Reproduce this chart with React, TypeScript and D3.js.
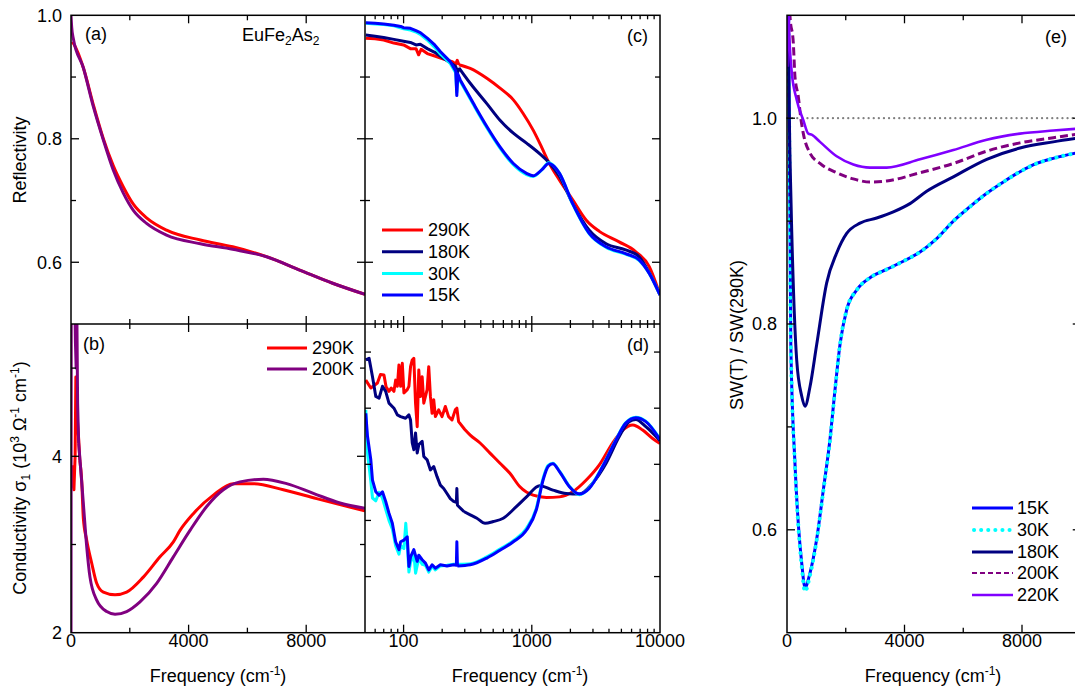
import React from 'react';
import * as d3 from 'd3';

type P = [number, number];

// ---------------- data ----------------
// (a) reflectivity, linear frequency
const reflA290: P[] = [[45, 0.957], [100, 0.953], [420, 0.915], [760, 0.855], [1100, 0.80], [1440, 0.756], [1780, 0.722], [2120, 0.694], [2570, 0.672], [3250, 0.652], [4400, 0.636], [5500, 0.625], [6650, 0.609], [7800, 0.587], [8900, 0.566], [10000, 0.548]];
const reflA200: P[] = [[0, 1.0], [25, 0.98], [80, 0.962], [420, 0.915], [760, 0.852], [1100, 0.798], [1440, 0.749], [1780, 0.712], [2120, 0.684], [2570, 0.663], [3250, 0.644], [4400, 0.630], [5500, 0.621], [6650, 0.609], [7800, 0.587], [8900, 0.566], [10000, 0.548]];

// (b) conductivity, linear frequency
const sigB290: P[] = [[30, 3.9], [60, 3.7], [100, 3.62], [140, 4.0], [165, 4.9], [185, 4.3], [220, 4.4], [260, 4.2], [300, 3.95], [363, 3.73], [419, 3.3], [533, 3.05], [703, 2.79], [874, 2.56], [1100, 2.46], [1497, 2.43], [1893, 2.46], [2460, 2.63], [3027, 2.86], [3481, 3.03], [3707, 3.16], [4161, 3.35], [4841, 3.56], [5522, 3.69], [6202, 3.69], [7222, 3.62], [8356, 3.52], [10000, 3.38]];
const sigB200: P[] = [[0, 1.5], [8, 6.0], [120, 6.0], [150, 5.3], [175, 5.0], [200, 5.6], [225, 4.6], [260, 4.15], [306, 3.96], [419, 3.47], [533, 2.98], [646, 2.63], [874, 2.37], [1214, 2.24], [1497, 2.21], [1893, 2.24], [2347, 2.35], [2914, 2.56], [3481, 2.86], [4048, 3.16], [4615, 3.43], [5181, 3.62], [5748, 3.71], [6542, 3.74], [7335, 3.69], [8243, 3.58], [9150, 3.47], [10000, 3.41]];

// (c) reflectivity, log frequency
const reflC290: P[] = [[50.7, 0.963], [60, 0.962], [70, 0.96], [84, 0.955], [100, 0.952], [113, 0.946], [125, 0.946], [131, 0.936], [137, 0.945], [153, 0.938], [175, 0.934], [205, 0.929], [240, 0.925], [255, 0.921], [262, 0.927], [270, 0.92], [331, 0.914], [446, 0.898], [565, 0.882], [718, 0.863], [856, 0.841], [1025, 0.814], [1190, 0.787], [1355, 0.762], [1645, 0.733], [2085, 0.701], [2660, 0.668], [3364, 0.65], [4800, 0.633], [6480, 0.617], [8250, 0.593], [10000, 0.547]];
const reflC180: P[] = [[50.7, 0.968], [60, 0.966], [70, 0.964], [84, 0.961], [100, 0.958], [113, 0.956], [125, 0.952], [135, 0.953], [153, 0.946], [175, 0.94], [205, 0.93], [240, 0.921], [255, 0.917], [262, 0.905], [270, 0.915], [331, 0.89], [446, 0.857], [565, 0.83], [718, 0.809], [910, 0.793], [1150, 0.776], [1355, 0.762], [1645, 0.739], [2085, 0.695], [2806, 0.652], [3800, 0.63], [5390, 0.62], [6870, 0.609], [8250, 0.583], [10000, 0.547]];
const reflC30: P[] = [[50.7, 0.987], [60, 0.986], [70, 0.985], [84, 0.983], [100, 0.978], [113, 0.976], [125, 0.973], [135, 0.969], [153, 0.96], [175, 0.948], [194, 0.937], [231, 0.922], [255, 0.907], [260, 0.875], [265, 0.902], [277, 0.893], [351, 0.855], [446, 0.818], [565, 0.785], [718, 0.758], [910, 0.742], [1025, 0.739], [1200, 0.75], [1355, 0.761], [1500, 0.755], [1645, 0.744], [2085, 0.694], [2806, 0.646], [3800, 0.624], [5390, 0.613], [6870, 0.603], [8250, 0.582], [10000, 0.547]];
const reflC15: P[] = [[50.7, 0.988], [60, 0.987], [70, 0.986], [84, 0.984], [95, 0.982], [100, 0.98], [113, 0.979], [125, 0.975], [135, 0.972], [153, 0.963], [175, 0.952], [194, 0.941], [231, 0.925], [255, 0.91], [260, 0.87], [265, 0.905], [277, 0.895], [351, 0.857], [446, 0.82], [565, 0.787], [718, 0.76], [910, 0.744], [1025, 0.740], [1200, 0.75], [1355, 0.76], [1500, 0.755], [1645, 0.744], [2085, 0.695], [2806, 0.647], [3800, 0.625], [5390, 0.614], [6870, 0.604], [8250, 0.582], [10000, 0.547]];

// (d) conductivity, log frequency
const sigD290: P[] = [[50.7, 4.50], [55.5, 4.36], [62.5, 4.45], [66, 4.6], [70.3, 4.59], [73, 4.38], [76.9, 4.30], [80, 4.36], [84.1, 4.30], [86.7, 4.50], [89.4, 4.39], [92, 4.77], [94.8, 4.39], [97.7, 4.80], [100.6, 4.27], [106.8, 4.33], [110, 4.39], [113.3, 4.74], [116.8, 4.86], [120.2, 4.89], [123.9, 4.09], [127.7, 3.67], [131.4, 4.68], [135.5, 4.21], [139.6, 4.56], [143.7, 4.09], [152.6, 4.33], [157.1, 4.74], [161.9, 4.21], [166.8, 3.91], [171.8, 4.15], [177, 3.85], [187.8, 3.97], [199.4, 3.85], [211.6, 4.03], [224.4, 3.85], [238.5, 3.79], [253, 3.97], [260.3, 4.0], [268.6, 3.76], [300, 3.62], [331, 3.52], [395, 3.38], [472, 3.20], [565, 3.02], [675, 2.84], [808, 2.60], [1025, 2.45], [1300, 2.41], [1645, 2.42], [2085, 2.51], [2660, 2.72], [3364, 2.99], [4270, 3.38], [5120, 3.61], [6130, 3.70], [7320, 3.61], [8760, 3.46], [10000, 3.37]];
const sigD180: P[] = [[50.7, 4.86], [53.8, 4.89], [57.2, 4.56], [60.7, 4.21], [64.4, 4.18], [68.4, 4.39], [72.5, 4.30], [76.9, 4.09], [84.1, 4.0], [89.4, 3.88], [94.8, 3.85], [103.6, 3.82], [110, 3.88], [113.3, 3.79], [116.8, 3.38], [120.2, 3.26], [123.9, 3.56], [127.7, 3.20], [131.4, 3.35], [139.6, 3.41], [143.7, 3.14], [152.6, 3.08], [161.9, 2.90], [171.8, 2.96], [182.4, 2.78], [193.5, 2.63], [205.4, 2.57], [218, 2.48], [231.3, 2.39], [245.6, 2.34], [258, 2.32], [260.3, 2.57], [263, 2.27], [295, 2.16], [331, 2.1], [373, 2.04], [432, 1.95], [501, 1.98], [599, 2.04], [761, 2.25], [910, 2.42], [1150, 2.62], [1460, 2.54], [1855, 2.48], [2350, 2.47], [2970, 2.66], [3800, 3.02], [4800, 3.49], [5740, 3.76], [6480, 3.80], [7750, 3.67], [10000, 3.42]];
const sigD30: P[] = [[50.7, 3.97], [52.3, 3.2], [55.5, 2.7], [57.2, 2.4], [60.7, 2.35], [64.4, 2.5], [68.4, 2.4], [72.5, 2.2], [76.9, 2.0], [81.7, 1.85], [86.7, 1.55], [92, 1.4], [94.8, 1.55], [100.6, 1.5], [104, 1.95], [106.8, 1.6], [110, 1.08], [113.3, 1.25], [120.2, 1.4], [124, 1.06], [127.7, 1.2], [131.4, 1.32], [139.6, 1.22], [148.1, 1.2], [157.1, 1.08], [166.8, 1.18], [177, 1.12], [193.5, 1.19], [218, 1.2], [245.6, 1.22], [268, 1.22], [331, 1.23], [446, 1.35], [565, 1.49], [718, 1.64], [910, 1.86], [1085, 2.22], [1225, 2.75], [1340, 2.98], [1460, 3.02], [1645, 2.88], [1965, 2.61], [2350, 2.46], [2806, 2.58], [3570, 2.97], [4530, 3.44], [5390, 3.74], [6480, 3.84], [7750, 3.77], [10000, 3.45]];
const sigD15: P[] = [[50.7, 3.91], [52.3, 3.50], [55.5, 3.08], [57.2, 2.72], [60.7, 2.51], [64.4, 2.45], [68.4, 2.51], [72.5, 2.34], [76.9, 2.13], [81.7, 1.95], [86.7, 1.62], [92, 1.48], [94.8, 1.62], [100.6, 1.65], [106.8, 1.71], [110, 1.18], [113.3, 1.35], [120.2, 1.48], [127.7, 1.27], [131.4, 1.38], [139.6, 1.30], [148.1, 1.24], [157.1, 1.12], [166.8, 1.21], [177, 1.15], [193.5, 1.21], [218, 1.19], [245.6, 1.21], [258, 1.2], [260.3, 1.62], [263, 1.19], [331, 1.21], [446, 1.33], [565, 1.47], [718, 1.62], [910, 1.83], [1085, 2.19], [1225, 2.72], [1340, 2.96], [1460, 3.01], [1645, 2.87], [1965, 2.60], [2350, 2.47], [2806, 2.57], [3570, 2.96], [4530, 3.43], [5390, 3.73], [6480, 3.83], [7750, 3.76], [10000, 3.44]];

// (e) spectral weight ratio, linear frequency
const sw15: P[] = [[30, 1.15], [100, 0.9], [130, 0.78], [270, 0.665], [400, 0.6], [500, 0.568], [613, 0.544], [783, 0.558], [1011, 0.591], [1238, 0.639], [1464, 0.688], [1634, 0.736], [1804, 0.78], [2032, 0.814], [2373, 0.833], [2826, 0.845], [3393, 0.853], [3960, 0.861], [4528, 0.870], [5096, 0.883], [5663, 0.900], [6230, 0.914], [6800, 0.927], [7366, 0.938], [7932, 0.948], [8500, 0.956], [9066, 0.961], [10000, 0.967]];
const sw30: P[] = [[30, 1.15], [100, 0.9], [130, 0.78], [270, 0.663], [400, 0.598], [500, 0.565], [613, 0.540], [783, 0.556], [1011, 0.590], [1238, 0.638], [1464, 0.687], [1634, 0.735], [1804, 0.78], [2032, 0.814], [2373, 0.833], [2826, 0.845], [3393, 0.853], [3960, 0.861], [4528, 0.870], [5096, 0.883], [5663, 0.900], [6230, 0.914], [6800, 0.927], [7366, 0.938], [7932, 0.948], [8500, 0.956], [9066, 0.961], [10000, 0.967]];
const sw180: P[] = [[30, 1.15], [80, 1.0], [136, 0.92], [250, 0.81], [330, 0.765], [500, 0.73], [613, 0.72], [783, 0.739], [1011, 0.78], [1351, 0.84], [1691, 0.869], [2032, 0.888], [2485, 0.898], [3053, 0.903], [3620, 0.909], [4187, 0.917], [4755, 0.929], [5663, 0.943], [6800, 0.96], [7932, 0.971], [9066, 0.977], [10000, 0.981]];
const sw200: P[] = [[30, 1.15], [102, 1.099], [215, 1.073], [272, 1.04], [385, 1.021], [470, 1.0], [556, 0.985], [783, 0.966], [1123, 0.956], [1691, 0.947], [2258, 0.941], [2826, 0.938], [3393, 0.939], [4528, 0.947], [5663, 0.956], [6800, 0.968], [7932, 0.976], [9066, 0.981], [10000, 0.985]];
const sw220: P[] = [[10, 1.05], [40, 1.12], [80, 1.08], [160, 1.045], [330, 1.018], [556, 0.998], [726, 0.985], [840, 0.984], [1123, 0.977], [1691, 0.963], [2258, 0.955], [2826, 0.952], [3393, 0.952], [4528, 0.96], [5663, 0.969], [6800, 0.979], [7932, 0.985], [9066, 0.988], [10000, 0.99]];

// ticks
const linTicks = [2000, 4000, 6000, 8000];
const linMajor = [4000, 8000];
const linLabels = [0, 4000, 8000];
const reflTicks = [0.6, 0.7, 0.8, 0.9];
const reflLabels = [0.6, 0.8, 1.0];
const sigTicks = [3, 4, 5];
const sigLabels = [2, 4];
const sigDTicks = [1, 2, 3, 4, 5];
const logMajor = [100, 1000];
const logLabels = [100, 1000, 10000];
const swTicks = [0.6, 0.7, 0.8, 0.9, 1.0];
const swLabels = [0.6, 0.8, 1.0];

const legendB = [{ label: '290K', color: '#FF0000' }, { label: '200K', color: '#800080' }];
const legendC = [{ label: '290K', color: '#FF0000' }, { label: '180K', color: '#000080' }, { label: '30K', color: '#00FFFF' }, { label: '15K', color: '#0000FF' }];

// ---------------- layout ----------------
const X0 = 71, XM = 365, X1 = 660, YT = 15.3, YM = 324, YB = 632.7;
const E0 = 787, E1 = 1080.75;
const FONT = "'Liberation Sans', Arial, Helvetica, sans-serif";
const FS = 18;
const NOISY = 300; // below this frequency the measured spectra are drawn point-to-point

const xL = d3.scaleLinear().domain([0, 10000]).range([X0, XM]);
const yA = d3.scaleLinear().domain([0.5, 1.0]).range([YM, YT]);
const yB = d3.scaleLinear().domain([2, 5.5]).range([YB, YM]);
const xG = d3.scaleLog().domain([50, 10000]).range([XM, X1]);
const yD = d3.scaleLinear().domain([0, 5.5]).range([YB, YM]);
const xE = d3.scaleLinear().domain([0, 10000]).range([E0, E1]);
const yE = d3.scaleLinear().domain([0.5, 1.1]).range([YB, YT]);

const logMinor: number[] = [];
[10, 100, 1000].forEach((dec) => {
  for (let m = 2; m <= 9; m++) {
    const v = m * dec;
    if (v > 50 && v < 10000 && !logMajor.includes(v)) logMinor.push(v);
  }
});

function mkPath(data: P[], x: (v: number) => number, y: (v: number) => number, noisy: boolean) {
  const gen = (curve: any, pts: P[]) =>
    d3.line<P>().x((d) => x(d[0])).y((d) => y(d[1])).curve(curve)(pts) || '';
  if (!noisy) return gen(d3.curveMonotoneX, data);
  const low = data.filter((d) => d[0] <= NOISY);
  const high = data.slice(Math.max(0, low.length - 1));
  return gen(d3.curveLinear, low) + gen(d3.curveMonotoneX, high);
}

const Curve = ({ data, x, y, color, w = 3, dash, clip, noisy = false }: any) => (
  <path d={mkPath(data, x, y, noisy)} fill="none" stroke={color} strokeWidth={w}
    strokeDasharray={dash} strokeLinecap={dash && dash.startsWith('0.1') ? 'round' : 'butt'}
    strokeLinejoin="round" clipPath={`url(#${clip})`} />
);

function hTicks(vals: number[], x: (v: number) => number, y0: number, len: (v: number) => number, dir: number, key: string) {
  return vals.map((v) => <line key={key + v} x1={x(v)} x2={x(v)} y1={y0} y2={y0 + dir * len(v)} stroke="#000" strokeWidth={1.3} />);
}
function vTicks(vals: number[], y: (v: number) => number, x0: number, len: (v: number) => number, dir: number, key: string) {
  return vals.map((v) => <line key={key + v} x1={x0} x2={x0 + dir * len(v)} y1={y(v)} y2={y(v)} stroke="#000" strokeWidth={1.3} />);
}

const FreqTitle = ({ x }: { x: number }) => (
  <text x={x} y={682} textAnchor="middle">Frequency (cm<tspan dy={-7} fontSize={12}>-1</tspan><tspan dy={7}>)</tspan></text>
);

export default function App() {
  const linLen = (v: number) => (linMajor.includes(v) ? 8 : 5);
  const reflLen = (v: number) => (v === 0.6 || v === 0.8 ? 8 : 5);
  const sigLen = (v: number) => (v === 4 ? 8 : 5);
  const logLen = (v: number) => (logMajor.includes(v) ? 8 : 4);
  const swLen = (v: number) => (v === 0.6 || v === 0.8 || v === 1.0 ? 8 : 5);
  const allLog = [...logMajor, ...logMinor];

  return (
    <svg width={1075} height={693} style={{ position: 'absolute', left: 0, top: 0, background: '#fff' }}
      fontFamily={FONT} fontSize={FS} fill="#000">
      <defs>
        <clipPath id="cA"><rect x={X0} y={YT} width={XM - X0} height={YM - YT} /></clipPath>
        <clipPath id="cB"><rect x={X0} y={YM} width={XM - X0} height={YB - YM} /></clipPath>
        <clipPath id="cC"><rect x={XM} y={YT} width={X1 - XM} height={YM - YT} /></clipPath>
        <clipPath id="cD"><rect x={XM} y={YM} width={X1 - XM} height={YB - YM} /></clipPath>
        <clipPath id="cE"><rect x={E0} y={YT} width={E1 - E0} height={YB - YT} /></clipPath>
      </defs>
      <rect x={0} y={0} width={1075} height={693} fill="#fff" />

      {/* (a) */}
      <Curve data={reflA290} x={xL} y={yA} color="#FF0000" clip="cA" />
      <Curve data={reflA200} x={xL} y={yA} color="#800080" clip="cA" />
      {/* (b) */}
      <Curve data={sigB290} x={xL} y={yB} color="#FF0000" clip="cB" noisy />
      <Curve data={sigB200} x={xL} y={yB} color="#800080" clip="cB" noisy />
      {/* (c) */}
      <Curve data={reflC290} x={xG} y={yA} color="#FF0000" clip="cC" noisy />
      <Curve data={reflC180} x={xG} y={yA} color="#000080" clip="cC" noisy />
      <Curve data={reflC30} x={xG} y={yA} color="#00FFFF" clip="cC" noisy />
      <Curve data={reflC15} x={xG} y={yA} color="#0000FF" clip="cC" noisy />
      {/* (d) */}
      <Curve data={sigD290} x={xG} y={yD} color="#FF0000" clip="cD" noisy />
      <Curve data={sigD180} x={xG} y={yD} color="#000080" clip="cD" noisy />
      <Curve data={sigD30} x={xG} y={yD} color="#00FFFF" clip="cD" noisy />
      <Curve data={sigD15} x={xG} y={yD} color="#0000FF" clip="cD" noisy />
      {/* (e) */}
      <line x1={E0} x2={E1} y1={yE(1.0)} y2={yE(1.0)} stroke="#808080" strokeWidth={2.2} strokeDasharray="0.1 5" strokeLinecap="round" />
      <Curve data={sw15} x={xE} y={yE} color="#0000FF" clip="cE" />
      <Curve data={sw30} x={xE} y={yE} color="#00FFFF" w={4} dash="0.1 7" clip="cE" />
      <Curve data={sw180} x={xE} y={yE} color="#000080" clip="cE" />
      <Curve data={sw200} x={xE} y={yE} color="#800080" dash="8 4" clip="cE" />
      <Curve data={sw220} x={xE} y={yE} color="#8000FF" w={2.6} clip="cE" />

      {/* frames */}
      <g stroke="#000" strokeWidth={1.5} fill="none">
        <rect x={X0} y={YT} width={X1 - X0} height={YB - YT} />
        <line x1={XM} x2={XM} y1={YT} y2={YB} />
        <line x1={X0} x2={X1} y1={YM} y2={YM} />
        <rect x={E0} y={YT} width={E1 - E0} height={YB - YT} />
      </g>

      {/* ticks left panels */}
      {vTicks(reflTicks, yA, X0, reflLen, 1, 'al')}
      {vTicks(reflTicks, yA, XM, reflLen, -1, 'ar')}
      {vTicks(reflTicks, yA, XM, reflLen, 1, 'cl')}
      {vTicks(reflTicks, yA, X1, reflLen, -1, 'cr')}
      {hTicks(linTicks, xL, YT, linLen, 1, 'at')}
      {hTicks(linTicks, xL, YM, linLen, 1, 'bt')}
      {hTicks(linTicks, xL, YM, linLen, -1, 'ab')}
      {hTicks(linTicks, xL, YB, linLen, -1, 'bb')}
      {vTicks(sigTicks, yB, X0, sigLen, 1, 'bl')}
      {vTicks(sigTicks, yB, XM, sigLen, -1, 'br')}
      {vTicks(sigDTicks, yD, XM, () => 6, 1, 'dl')}
      {vTicks(sigDTicks, yD, X1, () => 6, -1, 'dr')}
      {hTicks(allLog, xG, YT, logLen, 1, 'ct')}
      {hTicks(allLog, xG, YM, logLen, -1, 'cb')}
      {hTicks(allLog, xG, YM, logLen, 1, 'dt')}
      {hTicks(allLog, xG, YB, logLen, -1, 'db')}
      {/* ticks (e) */}
      {vTicks(swTicks, yE, E0, swLen, 1, 'el')}
      {vTicks(swTicks, yE, E1, swLen, -1, 'er')}
      {hTicks(linTicks, xE, YT, linLen, 1, 'et')}
      {hTicks(linTicks, xE, YB, linLen, -1, 'eb')}

      {/* tick labels */}
      {reflLabels.map((v) => <text key={'ra' + v} x={62} y={yA(v)} dy="0.35em" textAnchor="end">{v.toFixed(1)}</text>)}
      {sigLabels.map((v) => <text key={'sb' + v} x={62} y={yB(v)} dy="0.35em" textAnchor="end">{v}</text>)}
      {linLabels.map((v) => <text key={'xb' + v} x={xL(v)} y={647} textAnchor="middle">{v}</text>)}
      {logLabels.map((v) => <text key={'xd' + v} x={xG(v)} y={647} textAnchor="middle">{v}</text>)}
      {swLabels.map((v) => <text key={'se' + v} x={777} y={yE(v)} dy="0.35em" textAnchor="end">{v.toFixed(1)}</text>)}
      {linLabels.map((v) => <text key={'xe' + v} x={xE(v)} y={647} textAnchor="middle">{v}</text>)}

      {/* axis titles */}
      <text transform="translate(26,160) rotate(-90)" textAnchor="middle">Reflectivity</text>
      <text transform="translate(26,478) rotate(-90)" textAnchor="middle">
        Conductivity σ<tspan dy={4} fontSize={12}>1</tspan><tspan dy={-4}> (10</tspan><tspan dy={-7} fontSize={12}>3</tspan><tspan dy={7}> Ω</tspan><tspan dy={-7} fontSize={12}>-1</tspan><tspan dy={7}> cm</tspan><tspan dy={-7} fontSize={12}>-1</tspan><tspan dy={7}>)</tspan>
      </text>
      <text transform="translate(743,335) rotate(-90)" textAnchor="middle">SW(T) / SW(290K)</text>
      <FreqTitle x={218} />
      <FreqTitle x={520} />
      <FreqTitle x={933} />

      {/* panel labels */}
      <text x={85} y={40}>(a)</text>
      <text x={83} y={350}>(b)</text>
      <text x={627} y={42}>(c)</text>
      <text x={627} y={351}>(d)</text>
      <text x={1045} y={43}>(e)</text>
      <text x={242} y={41}>EuFe<tspan dy={4} fontSize={12}>2</tspan><tspan dy={-4}>As</tspan><tspan dy={4} fontSize={12}>2</tspan></text>

      {/* legends */}
      {legendB.map((d, i) => (
        <g key={'lb' + i}>
          <line x1={267} x2={307} y1={348 + i * 21} y2={348 + i * 21} stroke={d.color} strokeWidth={3} />
          <text x={312} y={348 + i * 21} dy="0.35em">{d.label}</text>
        </g>
      ))}
      {legendC.map((d, i) => (
        <g key={'lc' + i}>
          <line x1={382} x2={423} y1={230 + i * 21.7} y2={230 + i * 21.7} stroke={d.color} strokeWidth={3} />
          <text x={428} y={230 + i * 21.7} dy="0.35em">{d.label}</text>
        </g>
      ))}
      <g>
        <line x1={972} x2={1013} y1={508} y2={508} stroke="#0000FF" strokeWidth={3} />
        <text x={1017} y={508} dy="0.35em">15K</text>
        <line x1={974} x2={1013} y1={530} y2={530} stroke="#00FFFF" strokeWidth={4} strokeDasharray="0.1 7" strokeLinecap="round" />
        <text x={1017} y={530} dy="0.35em">30K</text>
        <line x1={972} x2={1013} y1={552} y2={552} stroke="#000080" strokeWidth={3} />
        <text x={1017} y={552} dy="0.35em">180K</text>
        <line x1={972} x2={1013} y1={573} y2={573} stroke="#800080" strokeWidth={2} strokeDasharray="5 3" />
        <text x={1017} y={573} dy="0.35em">200K</text>
        <line x1={972} x2={1013} y1={595} y2={595} stroke="#8000FF" strokeWidth={2.6} />
        <text x={1017} y={595} dy="0.35em">220K</text>
      </g>
    </svg>
  );
}
